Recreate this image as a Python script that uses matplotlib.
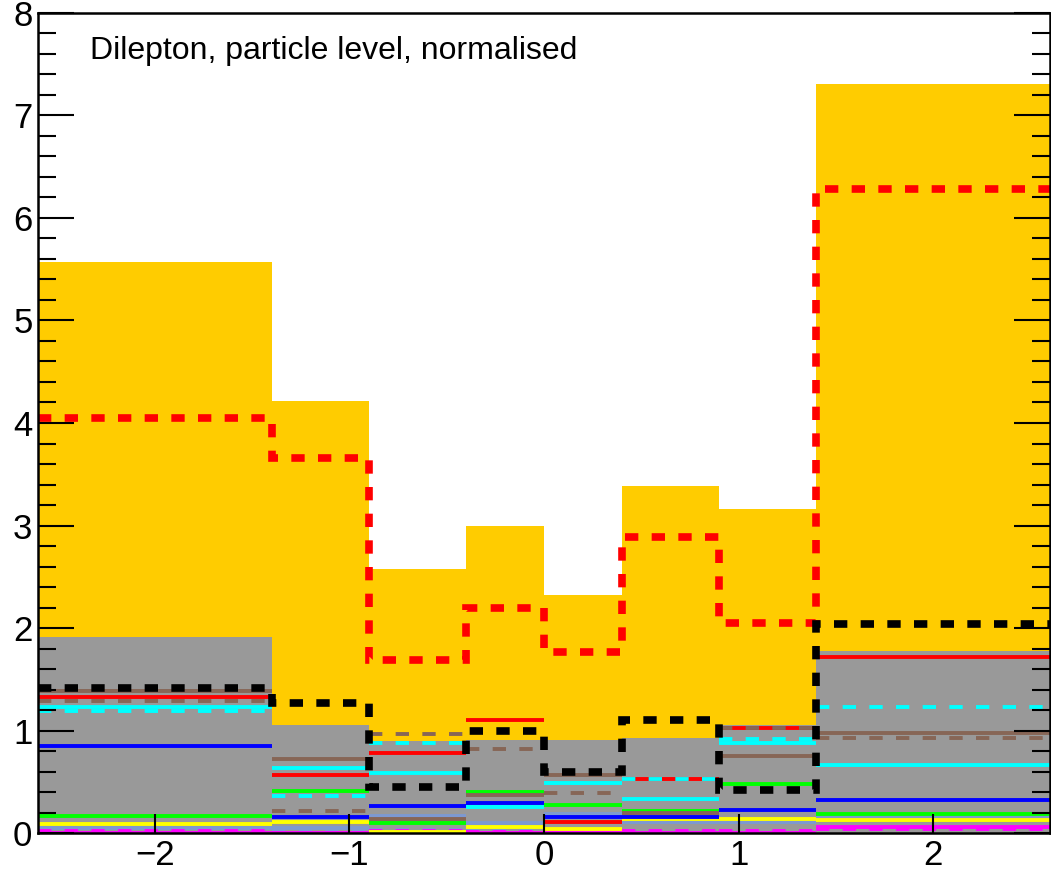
import numpy as np
import matplotlib
matplotlib.use("Agg")
import matplotlib.pyplot as plt
from matplotlib.ticker import MultipleLocator

plt.rcParams["font.family"] = ["Liberation Sans", "DejaVu Sans"]
plt.rcParams["lines.scale_dashes"] = False

# ── Data ──────────────────────────────────────────────────────────────────────
edges = [-2.6, -1.4, -0.9, -0.4, 0.0, 0.4, 0.9, 1.4, 2.6]

gold_fill = [5.57, 4.21, 2.58, 3.00, 2.32, 3.39, 3.16, 7.31]
gray_fill = [1.91, 1.05, 0.90, 0.91, 0.91, 0.93, 1.05, 1.78]
red_thick = [4.05, 3.66, 1.69, 2.20, 1.77, 2.89, 2.05, 6.28]
black_thick = [1.41, 1.27, 0.45, 1.00, 0.60, 1.10, 0.42, 2.04]

red_solid = [1.33, 0.57, 0.78, 1.10, 0.11, 0.53, 1.02, 1.72]
cyan_solid = [1.23, 0.63, 0.59, 0.25, 0.49, 0.33, 0.88, 0.66]
cyan_dashed = [1.19, 0.36, 0.88, 0.25, 0.49, 0.53, 0.92, 1.23]
brown_solid = [1.39, 0.72, 0.14, 0.37, 0.57, 0.20, 0.75, 0.98]
brown_dashed = [1.29, 0.21, 0.97, 0.82, 0.39, 0.20, 1.02, 0.93]
blue_solid = [0.85, 0.155, 0.26, 0.29, 0.16, 0.16, 0.22, 0.32]
green_solid = [0.17, 0.41, 0.10, 0.40, 0.27, 0.21, 0.48, 0.185]
yellow_solid = [0.088, 0.11, 0.01, 0.055, 0.04, 0.135, 0.135, 0.13]
lblue_solid = [0.05, 0.05, 0.17, 0.10, 0.185, 0.11, 0.11, 0.16]
lblue_dashed = [0.03, 0.03, 0.03, 0.02, 0.02, 0.02, 0.02, 0.04]
magenta_dashed = [0.02, 0.0, 0.02, 0.01, 0.01, 0.02, 0.02, 0.04]
magenta_solid = [0.0, 0.0, 0.0, 0.0, 0.0, 0.0, 0.0, 0.06]

label_text = "Dilepton, particle level, normalised"

GOLD = "#FFCC00"
GRAY = "#999999"
BROWN = "#876656"
LBLUE = "#7D99D1"

DASH = (0, (9.6, 9.6))

# ── Figure ────────────────────────────────────────────────────────────────────
fig = plt.figure(figsize=(10.51, 8.71), dpi=100)
ax = fig.add_axes([0.0362, 0.0436, 0.9628, 0.9415])

ax.stairs(gold_fill, edges, fill=True, color=GOLD, zorder=1)
ax.stairs(gray_fill, edges, fill=True, color=GRAY, zorder=1.1)

lo = np.array(edges[:-1])
hi = np.array(edges[1:])

thin = [
    (lblue_solid, LBLUE, "-"),
    (lblue_dashed, LBLUE, DASH),
    (magenta_solid, "#FF00FF", "-"),
    (magenta_dashed, "#FF00FF", DASH),
    (yellow_solid, "#FFFF00", "-"),
    (green_solid, "#00FF00", "-"),
    (blue_solid, "#0000FF", "-"),
    (brown_solid, BROWN, "-"),
    (red_solid, "#FF0000", "-"),
    (cyan_solid, "#00FFFF", "-"),
    (brown_dashed, BROWN, DASH),
    (cyan_dashed, "#00FFFF", DASH),
]
for vals, col, ls in thin:
    ax.hlines(vals, lo, hi, colors=col, linestyles=[ls], linewidth=2.8, zorder=1.5)

ax.stairs(red_thick, edges, baseline=None, color="#FF0000", linewidth=5.5,
          linestyle=DASH, zorder=1.8)
ax.stairs(black_thick, edges, baseline=None, color="black", linewidth=5.5,
          linestyle=DASH, zorder=1.9)

ax.text(0.051, 0.972, label_text, transform=ax.transAxes, fontsize=23,
        va="top", ha="left")

ax.set_xlim(-2.6, 2.6)
ax.set_ylim(0, 8)
ax.set_axisbelow(False)

ax.xaxis.set_major_locator(MultipleLocator(1))
ax.yaxis.set_major_locator(MultipleLocator(1))
ax.yaxis.set_minor_locator(MultipleLocator(0.2))

ax.tick_params(axis="y", which="major", direction="in", length=26, width=1.5,
               left=True, right=True, labelsize=25, pad=4)
ax.tick_params(axis="y", which="minor", direction="in", length=13, width=1.5,
               left=True, right=True)
ax.tick_params(axis="x", which="major", direction="in", length=14, width=1.5,
               top=False, labelsize=25, pad=4)

for sp in ax.spines.values():
    sp.set_linewidth(1.8)

fig.savefig("out.png", dpi=100)
